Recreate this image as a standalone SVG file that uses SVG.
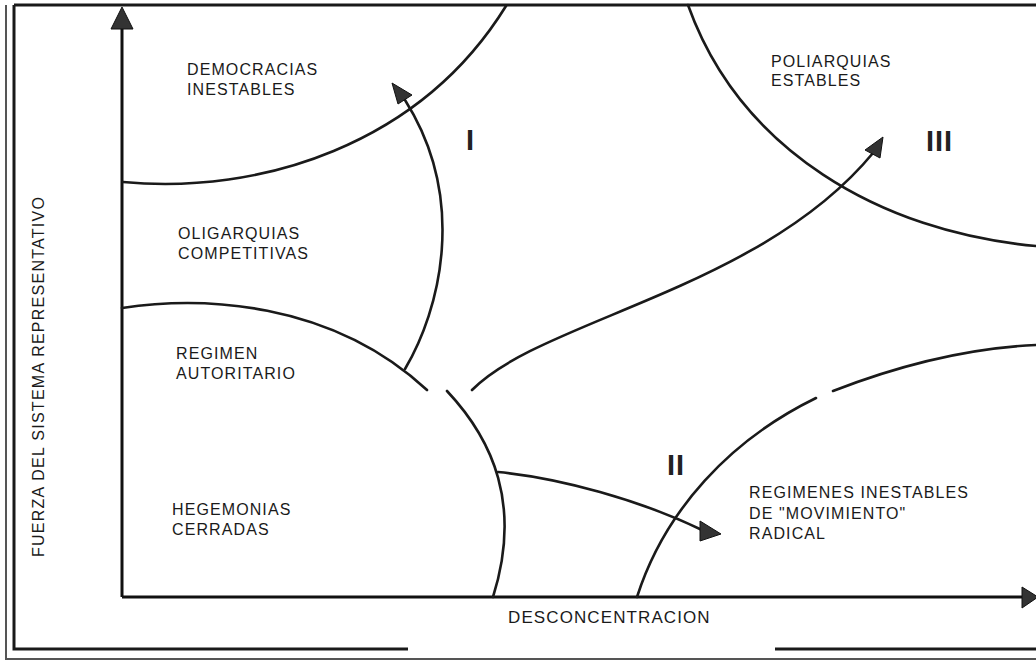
<svg xmlns="http://www.w3.org/2000/svg" width="1036" height="661" viewBox="0 0 1036 661">
<style>
.frame{stroke:#1a1a1a;fill:none;stroke-width:3}
.frame2{stroke:#555;fill:none;stroke-width:2}
.ax{stroke:#111;fill:none;stroke-width:3}
.cv{stroke:#1a1a1a;fill:none;stroke-width:2.6;stroke-linecap:round}
.head{fill:#333;stroke:#111;stroke-width:1}
.lbl{font-family:"Liberation Sans",Arial,sans-serif;font-size:16px;letter-spacing:1.1px;fill:#1a1a1a}
.ax-lbl{font-family:"Liberation Sans",Arial,sans-serif;font-size:17px;letter-spacing:1.1px;fill:#1a1a1a}
.num{font-family:"Liberation Sans",Arial,sans-serif;font-size:29px;font-weight:bold;fill:#222;letter-spacing:1px}
</style>
<rect x="0" y="0" width="1036" height="661" fill="#fff"/>
<g id="frame">
<path class="frame" d="M14,5 H1036"/>
<path class="frame2" d="M6,5 V659 H1036"/>
<path class="frame" d="M14,5 V649 H408"/>
<path class="frame" d="M775,649 H1036"/>
</g>
<g id="axes">
<path class="ax" d="M122,597 V26"/>
<polygon class="head" points="122,7 111,29 133,29"/>
<path class="ax" d="M122,597 H1024"/>
<polygon class="head" points="1038,597 1022,587 1022,608"/>
<text class="ax-lbl" x="508" y="623">DESCONCENTRACION</text>
<text class="lbl" transform="translate(44,557) rotate(-90)" textLength="361">FUERZA DEL SISTEMA REPRESENTATIVO</text>
</g>
<g id="boundaries">
<path class="cv" d="M123,182 C260,195 420,145 506,6"/>
<path class="cv" d="M122,308 C200,296 330,300 427,390"/>
<path class="cv" d="M447,391 C493,440 522,505 493,597"/>
<path class="cv" d="M688,5 C740,150 880,232 1036,246"/>
<path class="cv" d="M637,597 C665,510 730,440 816,398"/>
<path class="cv" d="M833,391 C900,365 970,348 1036,345"/>
</g>
<g id="n-democracias"><text class="lbl" x="187" y="75">DEMOCRACIAS</text><text class="lbl" x="187" y="95">INESTABLES</text></g>
<g id="n-poliarquias"><text class="lbl" x="771" y="67">POLIARQUIAS</text><text class="lbl" x="771" y="86">ESTABLES</text></g>
<g id="n-oligarquias"><text class="lbl" x="178" y="239">OLIGARQUIAS</text><text class="lbl" x="178" y="259">COMPETITIVAS</text></g>
<g id="n-regimen"><text class="lbl" x="176" y="359">REGIMEN</text><text class="lbl" x="176" y="379">AUTORITARIO</text></g>
<g id="n-hegemonias"><text class="lbl" x="172" y="515">HEGEMONIAS</text><text class="lbl" x="172" y="535">CERRADAS</text></g>
<g id="n-regimenes"><text class="lbl" x="749" y="498">REGIMENES INESTABLES</text><text class="lbl" x="749" y="519">DE "MOVIMIENTO"</text><text class="lbl" x="749" y="539">RADICAL</text></g>
<g id="connectors">
<path class="cv" d="M405,369 C440,310 468,200 405,100"/>
<polygon class="head" points="392,83 412,95 398,104"/>
<path class="cv" d="M472,390 C540,320 760,290 873,153"/>
<polygon class="head" points="883,137 865,150 880,158"/>
<path class="cv" d="M498,472 C560,478 640,500 702,530"/>
<polygon class="head" points="721,534 700,521 700,541"/>
</g>
<g id="numerals">
<text class="num" x="466" y="150">I</text>
<text class="num" x="926" y="151">III</text>
<text class="num" x="667" y="475">II</text>
</g>
</svg>
